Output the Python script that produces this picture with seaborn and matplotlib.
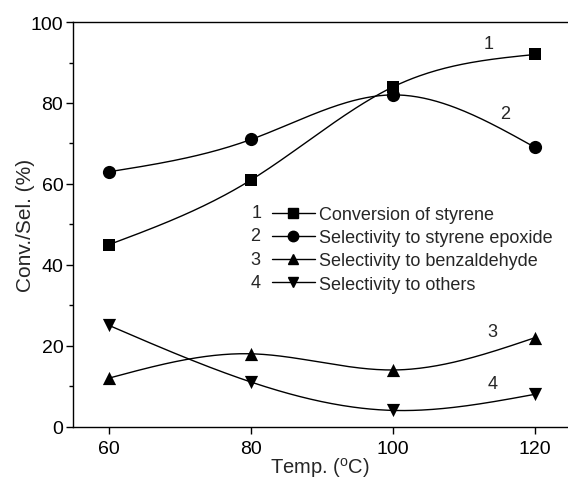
import numpy as np
import pandas as pd
import matplotlib
matplotlib.use("Agg")
import matplotlib.pyplot as plt
import seaborn as sns
from matplotlib.lines import Line2D
from matplotlib.ticker import MultipleLocator

temps = [60, 80, 100, 120]
conversion = [45, 61, 84, 92]
sel_epoxide = [63, 71, 82, 69]
sel_benzaldehyde = [12, 18, 14, 22]
sel_others = [25, 11, 4, 8]
series_names = ["Conversion of styrene", "Selectivity to styrene epoxide",
                "Selectivity to benzaldehyde", "Selectivity to others"]
series_nums = ["1", "2", "3", "4"]
markers = ["s", "o", "^", "v"]


def natural_spline(x, y, n=200):
    x = np.asarray(x, float); y = np.asarray(y, float)
    m = len(x); h = np.diff(x)
    A = np.zeros((m, m)); b = np.zeros(m)
    A[0, 0] = 1; A[-1, -1] = 1
    for i in range(1, m - 1):
        A[i, i - 1] = h[i - 1]; A[i, i] = 2 * (h[i - 1] + h[i]); A[i, i + 1] = h[i]
        b[i] = 6 * ((y[i + 1] - y[i]) / h[i] - (y[i] - y[i - 1]) / h[i - 1])
    M = np.linalg.solve(A, b)
    xs = np.linspace(x[0], x[-1], n); ys = np.empty_like(xs)
    for k, xv in enumerate(xs):
        i = min(np.searchsorted(x, xv, side="right") - 1, m - 2)
        t1 = x[i + 1] - xv; t0 = xv - x[i]
        ys[k] = (M[i] * t1**3 + M[i + 1] * t0**3) / (6 * h[i]) + \
                (y[i] / h[i] - M[i] * h[i] / 6) * t1 + (y[i + 1] / h[i] - M[i + 1] * h[i] / 6) * t0
    return xs, ys


sns.set_theme(style="ticks")
plt.rcParams["font.family"] = ["Liberation Sans", "DejaVu Sans"]

fig = plt.figure(figsize=(5.68, 4.81), dpi=100)
ax = fig.add_axes([0.1285, 0.111, 0.87, 0.841])

all_series = [conversion, sel_epoxide, sel_benzaldehyde, sel_others]
handles = []
for vals, name, mk in zip(all_series, series_names, markers):
    xs, ys = natural_spline(temps, vals)
    sns.lineplot(x=xs, y=ys, ax=ax, color="black", linewidth=1.0, sort=False)
    ms = 8.5 if mk == "s" else 9.5
    sns.scatterplot(x=temps, y=vals, ax=ax, marker=mk, color="black",
                    s=ms ** 2, edgecolor="black", linewidth=0, zorder=3)
    handles.append(Line2D([], [], color="black", linewidth=1.0, marker=mk,
                          markersize=6.5 if mk == "s" else 7.5))

ax.set_xlim(54.9, 124.5)
ax.set_ylim(0, 100)
ax.set_xticks(temps)
ax.yaxis.set_major_locator(MultipleLocator(20))
ax.yaxis.set_minor_locator(MultipleLocator(10))
for s in ["left", "bottom", "top"]:
    ax.spines[s].set_color("black")
    ax.spines[s].set_linewidth(1.0)
ax.spines["right"].set_visible(False)
ax.tick_params(axis="both", which="major", direction="out", length=5, width=1,
               labelsize=14, colors="black", pad=2)
ax.tick_params(axis="x", which="major", pad=5)
ax.tick_params(axis="y", which="minor", direction="out", length=3, width=1, colors="black")
ax.set_xlabel("Temp. ($\\mathregular{^oC}$)", fontsize=14.5, labelpad=-2)
ax.set_ylabel("Conv./Sel. (%)", fontsize=15, labelpad=-3)

# curve labels
label_pos = [(113.4, 94.6), (115.8, 77.3), (114.0, 23.5), (114.0, 10.6)]
for num, (lx, ly) in zip(series_nums, label_pos):
    ax.text(lx, ly, num, fontsize=13, ha="center", va="center")

leg = ax.legend(handles, series_names, loc="upper left", bbox_to_anchor=(0.402, 0.545),
                frameon=False, fontsize=13, handlelength=2.4, handletextpad=0.2,
                labelspacing=0.34, borderpad=0, borderaxespad=0)
fig.canvas.draw()
renderer = fig.canvas.get_renderer()
inv = ax.transAxes.inverted()
for h, num in zip(leg.legend_handles, series_nums):
    bb = h.get_window_extent(renderer)
    x0, yc = bb.x0, (bb.y0 + bb.y1) / 2
    px, py = inv.transform((x0 - 6, yc))
    ax.text(px, py, num, transform=ax.transAxes, fontsize=13, ha="right", va="center")

fig.savefig("out.png", dpi=100)
